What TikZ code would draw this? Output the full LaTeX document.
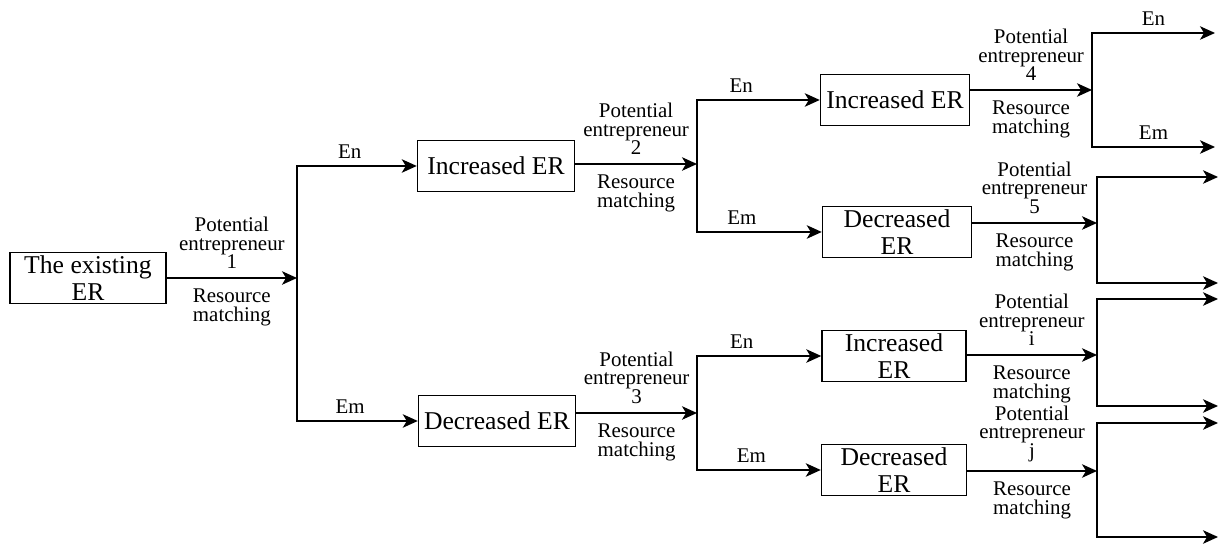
\documentclass[tikz,border=0pt]{standalone}
\usepackage{fontspec}
\setmainfont{Liberation Serif}
\usetikzlibrary{arrows.meta}
\newcommand{\erfont}{\fontsize{14.6}{15.4}\selectfont}
\newcommand{\lblfont}{\fontsize{11.9}{10.5}\selectfont}
\begin{document}
\begin{tikzpicture}[x=0.02cm, y=-0.02cm, line width=0.85pt,
		erbox/.style={draw, minimum width=3.12cm, minimum height=1.02cm, inner sep=0pt, align=center, font=\erfont},
		arr/.style={-{Stealth[length=0.3cm, width=0.27cm, inset=0.08cm]}},
		pe/.style={above=4pt, inner sep=1pt, align=center, font=\lblfont},
		rm/.style={below=5pt, inner sep=1pt, align=center, font=\lblfont},
		br/.style={above=3pt, inner sep=1pt, font=\lblfont}]
		\useasboundingbox (0, 0) rectangle (1228, 546);
		
		\node[erbox] (exist) at (88, 278) {The existing\\ER};
		\coordinate (f1) at (297, 278);
		\draw[arr] (exist.east) -- node[pe] {Potential\\entrepreneur\\1} node[rm] {Resource\\matching} (f1);
		
		\node[erbox, minimum width=3.14cm] (inc1) at (496, 166) {Increased ER};
		\draw[arr] (f1) |- node[br, pos=0.72] {En} (inc1.west);
		\node[erbox, minimum width=3.14cm] (dec1) at (497, 421) {Decreased ER};
		\draw[arr] (f1) |- node[br, pos=0.72] {Em} (dec1.west);
		
		\coordinate (f2) at (697, 164);
		\draw[arr] (inc1.east |- f2) -- node[pe] {Potential\\entrepreneur\\2} node[rm] {Resource\\matching} (f2);
		\node[erbox, minimum width=2.98cm] (inc2) at (895, 100) {Increased ER};
		\draw[arr] (f2) |- node[br, pos=0.68] {En} (inc2.west);
		\node[erbox, minimum width=2.98cm] (dec2) at (897, 232) {Decreased\\ER};
		\draw[arr] (f2) |- node[br, pos=0.68] {Em} (dec2.west);
		
		\coordinate (f3) at (697, 413);
		\draw[arr] (dec1.east |- f3) -- node[pe] {Potential\\entrepreneur\\3} node[rm] {Resource\\matching} (f3);
		\node[erbox, minimum width=2.88cm] (inc3) at (894, 356) {Increased\\ER};
		\draw[arr] (f3) |- node[br, pos=0.68] {En} (inc3.west);
		\node[erbox, minimum width=2.9cm] (dec3) at (894, 470) {Decreased\\ER};
		\draw[arr] (f3) |- node[br, pos=0.72] {Em} (dec3.west);
		
		\coordinate (f4) at (1092, 90);
		\draw[arr] (inc2.east |- f4) -- node[pe] {Potential\\entrepreneur\\4} node[rm] {Resource\\matching} (f4);
		\coordinate (o4a) at (1215, 33);
		\coordinate (o4b) at (1215, 147);
		\draw[arr] (f4) |- node[br, pos=0.75] {En} (o4a);
		\draw[arr] (f4) |- node[br, pos=0.75] {Em} (o4b);
		
		\coordinate (f5) at (1097, 223);
		\draw[arr] (dec2.east |- f5) -- node[pe] {Potential\\entrepreneur\\5} node[rm] {Resource\\matching} (f5);
		\coordinate (o5a) at (1218, 177);
		\coordinate (o5b) at (1218, 283);
		\draw[arr] (f5) |- (o5a);
		\draw[arr] (f5) |- (o5b);
		
		\coordinate (f6) at (1097, 355);
		\draw[arr] (inc3.east |- f6) -- node[pe] {Potential\\entrepreneur\\i} node[rm] {Resource\\matching} (f6);
		\coordinate (o6a) at (1218, 299);
		\coordinate (o6b) at (1218, 406);
		\draw[arr] (f6) |- (o6a);
		\draw[arr] (f6) |- (o6b);
		
		\coordinate (f7) at (1097, 471);
		\draw[arr] (dec3.east |- f7) -- node[pe] {Potential\\entrepreneur\\j} node[rm] {Resource\\matching} (f7);
		\coordinate (o7a) at (1218, 423);
		\coordinate (o7b) at (1218, 537);
		\draw[arr] (f7) |- (o7a);
		\draw[arr] (f7) |- (o7b);
	\end{tikzpicture}
\end{document}
